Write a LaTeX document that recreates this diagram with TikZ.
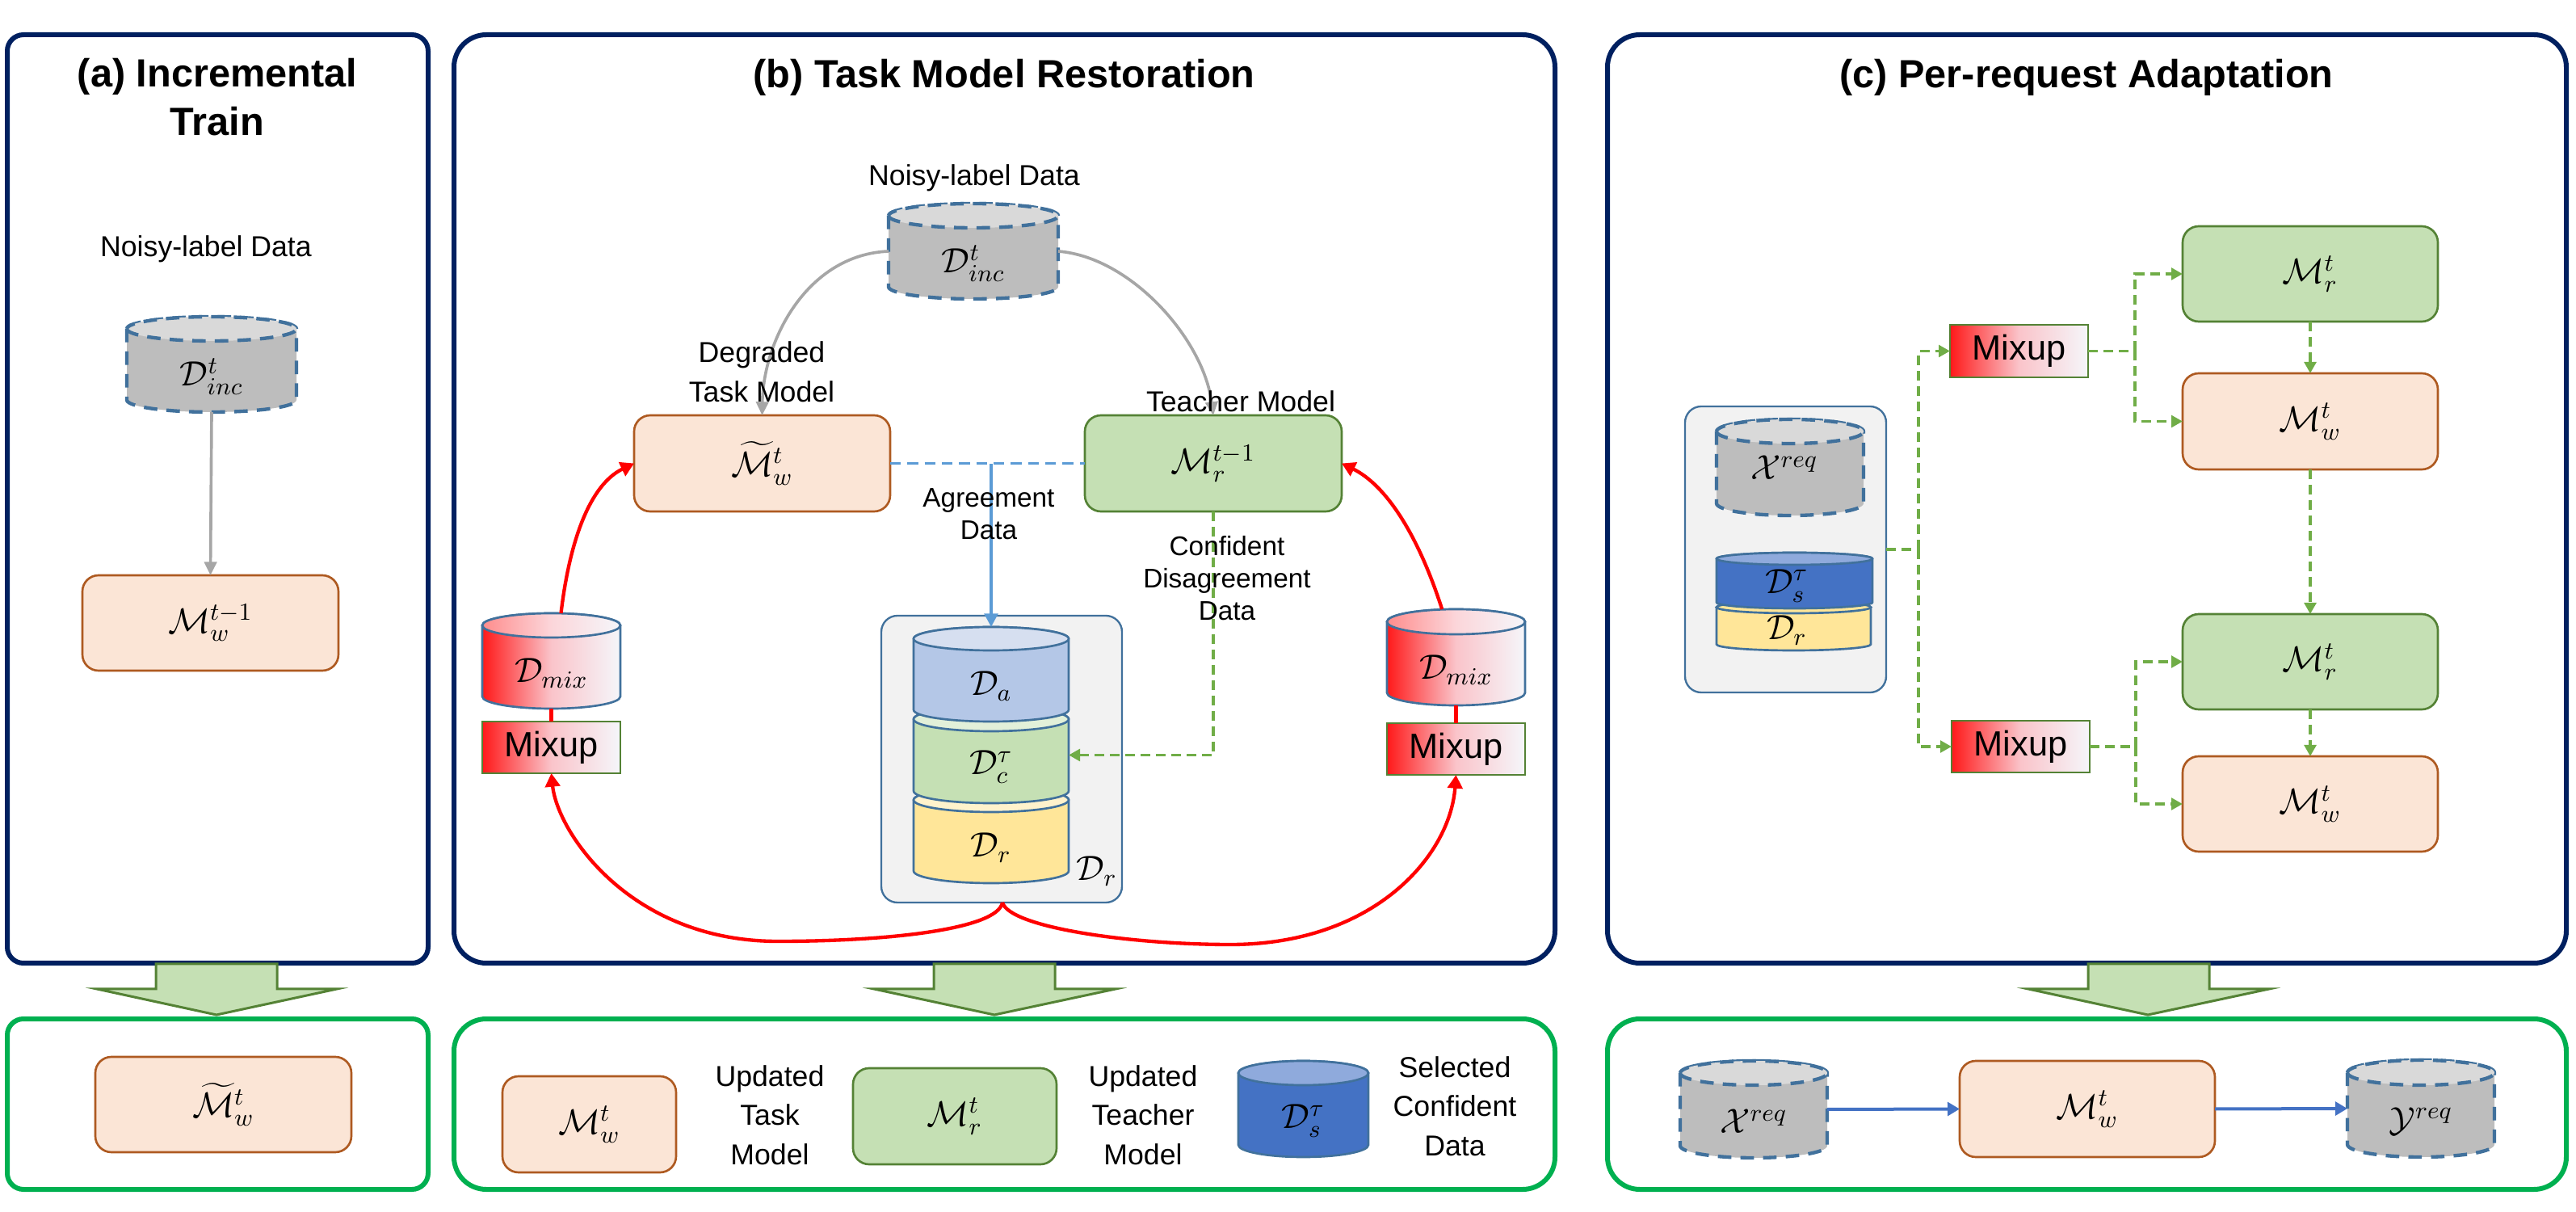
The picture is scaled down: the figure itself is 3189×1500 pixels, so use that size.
\RequirePackage{fix-cm}
\documentclass[tikz,border=0pt]{standalone}
\usepackage{amsmath}
\usepackage[no-math]{fontspec}
\setmainfont{Liberation Sans}
\usetikzlibrary{arrows.meta}
\definecolor{navyb}{HTML}{002060}
\definecolor{greenb}{HTML}{00B050}
\definecolor{tfill}{HTML}{FBE5D6}
\definecolor{tline}{HTML}{AE5A21}
\definecolor{gfill}{HTML}{C5E0B4}
\definecolor{gline}{HTML}{548235}
\definecolor{cylline}{HTML}{41719C}
\definecolor{dgreen}{HTML}{70AD47}
\definecolor{lblue}{HTML}{5B9BD5}
\definecolor{dblue}{HTML}{4472C4}
\definecolor{gray1}{HTML}{BDBDBD}
\definecolor{gray2}{HTML}{D9D9D9}
\definecolor{gline2}{HTML}{A6A6A6}
\definecolor{mixend}{HTML}{F5F6FA}
\definecolor{mixmid}{HTML}{FAC4CA}
\definecolor{yelbody}{HTML}{FFE699}
\definecolor{yeltop}{HTML}{FFF2CC}
\definecolor{grntop}{HTML}{E2F0D9}
\definecolor{blubody}{HTML}{B4C7E7}
\definecolor{blutop}{HTML}{D6DFF0}
\definecolor{dbtop}{HTML}{8FAADC}
\tikzset{
  panelA/.style={draw=navyb,line width=1.8pt,rounded corners=#1},
  panelB/.style={draw=greenb,line width=1.8pt,rounded corners=#1},
  bigarrow/.style={draw=gline,fill=gfill,line width=0.9pt,line join=miter},
  taskbox/.style={draw=tline,fill=tfill,line width=0.8pt,rounded corners=6pt},
  teachbox/.style={draw=gline,fill=gfill,line width=0.8pt,rounded corners=6pt},
  groupbox/.style={draw=cylline,fill=black!5,line width=0.7pt,rounded corners=6pt},
  mixbox/.style={draw=gline,line width=0.8pt,left color=red!90!white,right color=mixend,middle color=mixmid,font=\mixfont},
  mixbody/.style={draw=cylline,line width=0.8pt,left color=red!90!white,right color=mixend,middle color=mixmid},
  mixtop/.style={draw=cylline,line width=0.8pt,left color=red!45!white,right color=mixend,middle color=mixmid!70!white},
  graybody/.style={draw=cylline,fill=gray1,line width=1.3pt,dash pattern=on 5pt off 3.4pt},
  graytop/.style={draw=cylline,fill=gray2,line width=1.3pt,dash pattern=on 5pt off 3.4pt},
  solidbody/.style={draw=cylline,fill=#1,line width=0.8pt},
  solidtop/.style={draw=cylline,fill=#1,line width=0.8pt},
  lab/.style={font=\lbfont,align=center,inner sep=0pt},
  smalllab/.style={font=\slfont,align=center,inner sep=0pt},
  ttl/.style={font=\ttlfont,align=center,inner sep=0pt},
  mlab/.style={font=\mthfont,inner sep=0pt},
  redarrow/.style={draw=red,line width=1.3pt,-{Triangle[length=5pt,width=5.5pt]}},
  redline/.style={draw=red,line width=1.3pt},
  grayarrow/.style={draw=gline2,line width=1.1pt,-{Triangle[length=5pt,width=4.6pt]}},
  gdash/.style={draw=dgreen,line width=1.1pt,dash pattern=on 3.6pt off 2.1pt},
  gdasharrow/.style={gdash,-{Triangle[length=4.2pt,width=4.4pt]}},
  agdash/.style={draw=lblue,line width=1.1pt,dash pattern=on 4pt off 2.4pt},
  agarrow/.style={draw=lblue,line width=1.1pt,-{Triangle[length=5pt,width=5pt]}},
  bluearrow/.style={draw=dblue,line width=1.2pt,-{Triangle[length=4.5pt,width=5pt]}},
}
\newcommand{\mixfont}{\fontsize{10.6}{12}\selectfont}
\newcommand{\lbfont}{\fontsize{10.7}{13}\selectfont}
\newcommand{\slfont}{\fontsize{10}{12}\selectfont}
\newcommand{\ttlfont}{\bfseries\fontsize{14.6}{18}\selectfont}
\newcommand{\mthfont}{\fontsize{13}{15}\selectfont}
% box: name x0 x1 y0 y1 style text
\newcommand{\mybox}[7]{%
  \pgfmathsetmacro\bw{(#3-#2)*0.3}\pgfmathsetmacro\bh{(#5-#4)*0.3}%
  \node[#6,font=\mthfont,inner sep=0pt,outer sep=0pt,minimum width=\bw pt,minimum height=\bh pt]
    (#1) at ({(#2+#3)/2},{(#4+#5)/2}) {#7};}
% cylinder: name x0 x1 top ellbottom bottom bodystyle topstyle label
\newcommand{\mycyl}[9]{%
  \pgfmathsetmacro\cx{(#2+#3)/2}\pgfmathsetmacro\rx{(#3-#2)/2}%
  \pgfmathsetmacro\ry{(#5-#4)/2}\pgfmathsetmacro\ym{#4+\ry}\pgfmathsetmacro\yb{#6-\ry}%
  \pgfmathsetmacro\kx{0.5523*\rx}\pgfmathsetmacro\ky{0.5523*\ry}%
  \path[#7] (#2,\ym) -- (#2,\yb) .. controls (#2,{\yb+\ky}) and ({\cx-\kx},#6) .. (\cx,#6)
     .. controls ({\cx+\kx},#6) and (#3,{\yb+\ky}) .. (#3,\yb) -- (#3,\ym)
     .. controls (#3,{\ym-\ky}) and ({\cx+\kx},#4) .. (\cx,#4)
     .. controls ({\cx-\kx},#4) and (#2,{\ym-\ky}) .. (#2,\ym) -- cycle;
  \path[#8] (#2,\ym) .. controls (#2,{\ym+\ky}) and ({\cx-\kx},#5) .. (\cx,#5)
     .. controls ({\cx+\kx},#5) and (#3,{\ym+\ky}) .. (#3,\ym)
     .. controls (#3,{\ym-\ky}) and ({\cx+\kx},#4) .. (\cx,#4)
     .. controls ({\cx-\kx},#4) and (#2,{\ym-\ky}) .. (#2,\ym) -- cycle;
  \pgfmathsetmacro\bw{(#3-#2)*0.3}\pgfmathsetmacro\bh{(#6-#4)*0.3}%
  \node[inner sep=0pt,outer sep=0pt,minimum width=\bw pt,minimum height=\bh pt] (#1) at (\cx,{(#4+#6)/2}) {};
  \node[mlab] (#1-l) at (\cx,{(#5+#6)/2}) {#9};}
\begin{document}
\begin{tikzpicture}[x=0.3pt,y=-0.3pt]
\useasboundingbox (0,0) rectangle (3189,1500);
% panels
\draw[panelA=6pt] (9,43) rectangle (530,1192);
\draw[panelA=12pt] (562,43) rectangle (1925,1192);
\draw[panelA=12pt] (1990,43) rectangle (3177,1192);
\draw[panelB=6pt] (9,1261) rectangle (530,1472);
\draw[panelB=12pt] (562,1261) rectangle (1925,1472);
\draw[panelB=12pt] (1990,1261) rectangle (3177,1472);
% big arrows
\draw[bigarrow] (193,1193) -- (343,1193) -- (343,1224) -- (417,1224) -- (268,1256) -- (120,1224) -- (193,1224) -- cycle;
\draw[bigarrow] (1156,1193) -- (1306,1193) -- (1306,1224) -- (1381,1224) -- (1231,1256) -- (1082,1224) -- (1156,1224) -- cycle;
\draw[bigarrow] (2585,1193) -- (2735,1193) -- (2735,1224) -- (2809,1224) -- (2659,1256) -- (2511,1224) -- (2585,1224) -- cycle;
% panel a
\mycyl{dinca}{157}{367}{392}{422}{510}{graybody}{graytop}{$\mathcal{D}^{t}_{inc}$}
\mybox{mwa}{102}{419}{712}{830}{taskbox}{$\mathcal{M}^{t-1}_{w}$}
\draw[grayarrow] (dinca.south) -- (mwa.north);
% panel b
\mycyl{dincb}{1100}{1310}{252}{282}{370}{graybody}{graytop}{$\mathcal{D}^{t}_{inc}$}
\mybox{mt}{785}{1102}{514}{633}{taskbox}{$\widetilde{\mathcal{M}}^{t}_{w}$}
\mybox{tm}{1343}{1661}{514}{633}{teachbox}{$\mathcal{M}^{t-1}_{r}$}
\draw[grayarrow] (dincb.west) .. controls (1000,315) and (945,420) .. (mt.north);
\draw[grayarrow] (dincb.east) .. controls (1400,318) and (1490,420) .. (tm.north);
\mybox{dbox}{1091}{1389}{762}{1117}{groupbox}{}
\mycyl{dr}{1131}{1323}{975}{1005}{1093}{solidbody=yelbody}{solidtop=yeltop}{$\mathcal{D}_{r}$}
\mycyl{dc}{1131}{1323}{875}{905}{994}{solidbody=gfill}{solidtop=grntop}{$\mathcal{D}^{\tau}_{c}$}
\mycyl{da}{1131}{1323}{776}{805}{893}{solidbody=blubody}{solidtop=blutop}{$\mathcal{D}_{a}$}
\node[mlab] (drlab) at (1358,1078) {$\mathcal{D}_{r}$};
\mycyl{dmixl}{597}{768}{759}{789}{877}{mixbody}{mixtop}{$\mathcal{D}_{mix}$}
\mybox{mixl}{597}{768}{893}{957}{mixbox}{Mixup}
\mycyl{dmixr}{1717}{1888}{754}{785}{873}{mixbody}{mixtop}{$\mathcal{D}_{mix}$}
\mybox{mixr}{1717}{1888}{895}{959}{mixbox}{Mixup}
\draw[redline] (dmixl.south) -- (mixl.north);
\draw[redline] (dmixr.south) -- (mixr.north);
\draw[redarrow] ([xshift=3.6pt]dmixl.north) .. controls (705,670) and (730,600) .. (mt.west);
\draw[redarrow] ([xshift=-5.2pt]dmixr.north) .. controls (1755,660) and (1715,600) .. (tm.east);
\coordinate (bsplit) at (1241,1117);
\coordinate (bleft) at (963,1165);
\coordinate (bright) at (1523,1169);
\draw[redarrow] (bsplit) .. controls (1235,1150) and (1100,1165) .. (bleft) .. controls (780,1165) and (690,1030) .. (mixl.south);
\draw[redarrow] (bsplit) .. controls (1250,1148) and (1400,1169) .. (bright) .. controls (1700,1169) and (1795,1060) .. (mixr.south);
\draw[agdash] (mt.east) -- (tm.west);
\coordinate (agj) at (1227,574);
\draw[agarrow] (agj) -- (da.north);
\draw[gdasharrow] (tm.south) |- (dc.east);
% panel b text
\node[lab] (nl2) at (1206,220) {Noisy-label Data};
\node[lab] (dg) at (943,460) {Degraded\\[1.6pt]Task Model};
\node[lab] (tml) at (1536,497) {Teacher Model};
\node[smalllab] (agl) at (1224,636) {Agreement\\Data};
\node[smalllab] (cdl) at (1519,716) {Confident\\Disagreement\\Data};
\node[ttl] (tb) at (1243,96) {(b) Task Model Restoration};
% panel a text
\node[ttl] (ta) at (269,120) {(a) Incremental\\Train};
\node[lab] (nl1) at (255,308) {Noisy-label Data};
% panel c
\node[ttl] (tc) at (2583,96) {(c) Per-request Adaptation};
\mybox{gbox}{2086}{2335}{503}{857}{groupbox}{}
\mycyl{xq}{2125}{2307}{519}{549}{638}{graybody}{graytop}{}
\node[mlab] (xql) at (2209,579) {$\mathcal{X}^{req}$};
\mycyl{dr2}{2125}{2316}{744}{759}{805}{solidbody=yelbody}{solidtop=yelbody}{}
\mycyl{ds2}{2125}{2318}{684}{699}{753}{solidbody=dblue}{solidtop=dbtop}{}
\node[mlab] (ds2l) at (2212,725) {$\mathcal{D}^{\tau}_{s}$};
\node[mlab] (dr2l) at (2212,780) {$\mathcal{D}_{r}$};
\mybox{mix1}{2414}{2585}{402}{467}{mixbox}{Mixup}
\mybox{mix2}{2416}{2587}{892}{956}{mixbox}{Mixup}
\mybox{mr1}{2702}{3018}{280}{398}{teachbox}{$\mathcal{M}^{t}_{r}$}
\mybox{mw1}{2702}{3018}{462}{581}{taskbox}{$\mathcal{M}^{t}_{w}$}
\mybox{mr2}{2702}{3018}{760}{878}{teachbox}{$\mathcal{M}^{t}_{r}$}
\mybox{mw2}{2702}{3018}{936}{1054}{taskbox}{$\mathcal{M}^{t}_{w}$}
\coordinate (j1) at (2375,680);
\coordinate (j2) at (2643,434.5);
\coordinate (j3) at (2644,924);
\draw[gdash] (gbox.east) -- (j1);
\draw[gdasharrow] (j1) |- (mix1.west);
\draw[gdasharrow] (j1) |- (mix2.west);
\draw[gdash] (mix1.east) -- (j2);
\draw[gdash] (mix2.east) -- (j3);
\draw[gdasharrow] (j2) |- (mr1.west);
\draw[gdasharrow] (j2) |- (mw1.west);
\draw[gdasharrow] (j3) |- (mr2.west);
\draw[gdasharrow] (j3) |- (mw2.west);
\draw[gdasharrow] (mr1.south) -- (mw1.north);
\draw[gdasharrow] (mw1.south) -- (mr2.north);
\draw[gdasharrow] (mr2.south) -- (mw2.north);
% bottom a
\mybox{mta}{118}{435}{1308}{1426}{taskbox}{$\widetilde{\mathcal{M}}^{t}_{w}$}
% bottom b
\mybox{mwb}{622}{837}{1332}{1451}{taskbox}{$\mathcal{M}^{t}_{w}$}
\mybox{mrb}{1056}{1308}{1322}{1441}{teachbox}{$\mathcal{M}^{t}_{r}$}
\mycyl{dsb}{1533}{1694}{1313}{1343}{1432}{solidbody=dblue}{solidtop=dbtop}{$\mathcal{D}^{\tau}_{s}$}
\node[lab] (utm) at (953,1380) {Updated\\[1.6pt]Task\\[1.6pt]Model};
\node[lab] (uthm) at (1415,1380) {Updated\\[1.6pt]Teacher\\[1.6pt]Model};
\node[lab] (scd) at (1801,1369) {Selected\\[1.6pt]Confident\\[1.6pt]Data};
% bottom c
\mycyl{xb}{2080}{2262}{1313}{1343}{1433}{graybody}{graytop}{$\mathcal{X}^{req}$}
\mybox{mwc}{2426}{2742}{1313}{1432}{taskbox}{$\mathcal{M}^{t}_{w}$}
\mycyl{yb}{2906}{3088}{1312}{1343}{1432}{graybody}{graytop}{$\mathcal{Y}^{req}$}
\draw[bluearrow] (xb.east) -- (mwc.west);
\draw[bluearrow] (mwc.east) -- (yb.west);
\end{tikzpicture}
\end{document}
